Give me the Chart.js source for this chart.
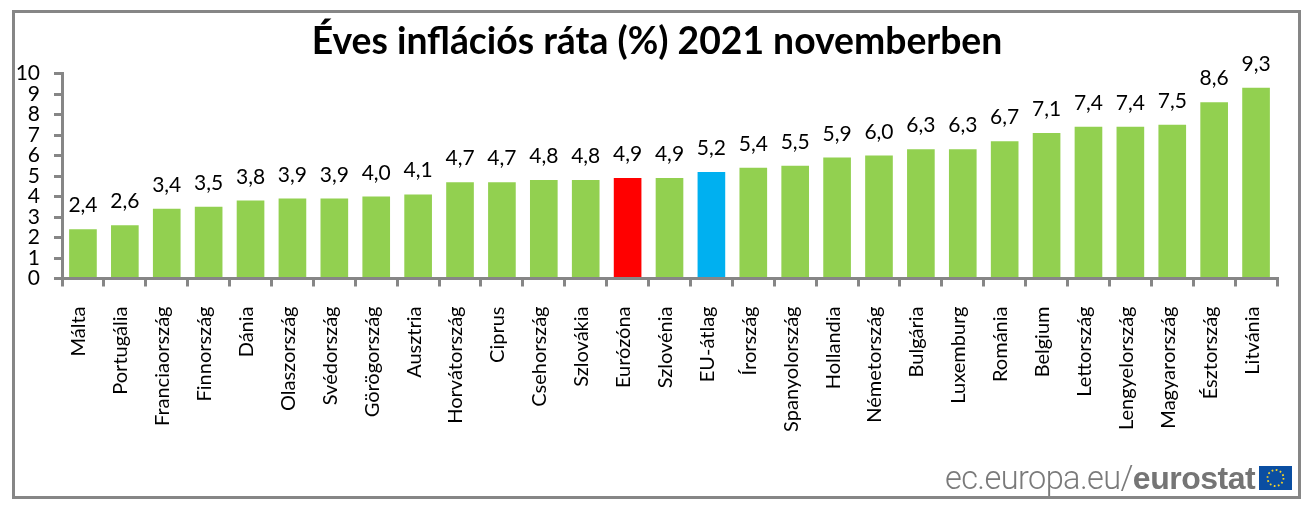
<!DOCTYPE html>
<html lang="hu"><head><meta charset="utf-8">
<script src="https://cdn.jsdelivr.net/npm/chart.js@4"></script>
<style>
html,body{margin:0;padding:0;background:#fff;width:1310px;height:508px;overflow:hidden}
#wrap{position:relative;width:1310px;height:508px}
#c{position:absolute;left:0;top:0}
#frame{position:absolute;left:12px;top:10px;width:1283px;height:483px;border:3.5px solid #868686;pointer-events:none}
#wm{position:absolute;left:945px;top:459px;font:300 32.5px Roboto,"Liberation Sans",sans-serif;color:#7a7a7a;letter-spacing:-0.6px;white-space:nowrap}
#wm b{font:bold 32px "Liberation Sans",Arial,sans-serif;color:#757575;letter-spacing:-0.5px}
#flag{position:absolute;left:1259px;top:466px}
</style></head><body>
<div id="wrap">
<canvas id="c" width="1310" height="508"></canvas>
<div id="frame"></div>
<div id="wm">ec.europa.eu/<b>eurostat</b></div>
<svg id="flag" width="33" height="24" viewBox="0 0 33 24"><rect width="33" height="24" fill="#0a4ea2"/><circle cx="16.5" cy="12" r="8" fill="none" stroke="#f5d327" stroke-width="1.8" stroke-dasharray="1.7 2.49"/></svg>
</div>
<script>
const categories=["Málta","Portugália","Franciaország","Finnország","Dánia","Olaszország","Svédország","Görögország","Ausztria","Horvátország","Ciprus","Csehország","Szlovákia","Eurózóna","Szlovénia","EU-átlag","Írország","Spanyolország","Hollandia","Németország","Bulgária","Luxemburg","Románia","Belgium","Lettország","Lengyelország","Magyarország","Észtország","Litvánia"];
const values=[2.4,2.6,3.4,3.5,3.8,3.9,3.9,4.0,4.1,4.7,4.7,4.8,4.8,4.9,4.9,5.2,5.4,5.5,5.9,6.0,6.3,6.3,6.7,7.1,7.4,7.4,7.5,8.6,9.3];
const barColors=categories.map(n=>n==="Eurózóna"?"#ff0000":n==="EU-átlag"?"#00b0f0":"#92d050");
const titleText="Éves inflációs ráta (%) 2021 novemberben";
const axisGray="#868686";
const fontFam='Lato, "Open Sans", sans-serif';
const labelPlugin={id:"valueLabels",afterDatasetsDraw(ch){
  const x=ch.ctx,m=ch.getDatasetMeta(0);
  x.save();x.font='21px '+fontFam;x.fillStyle="#000";x.textAlign="center";x.textBaseline="alphabetic";
  m.data.forEach((b,i)=>x.fillText(values[i].toFixed(1).replace(".",","),b.x,b.y-17));
  x.restore();
}};
new Chart(document.getElementById("c"),{
  type:"bar",
  data:{labels:categories,datasets:[{data:values,backgroundColor:barColors,borderWidth:0,barPercentage:0.66,categoryPercentage:1}]},
  plugins:[labelPlugin],
  options:{
    responsive:false,animation:false,
    layout:{padding:{left:4,right:0,top:0,bottom:0}},
    plugins:{legend:{display:false},tooltip:{enabled:false},
      title:{display:true,text:titleText,color:"#000",align:"center",
        font:{family:fontFam,size:37.3,weight:"bold",lineHeight:1},padding:{top:23,bottom:13.2}}},
    scales:{
      x:{offset:true,
        grid:{offset:true,drawOnChartArea:false,drawTicks:true,tickLength:8,color:axisGray,lineWidth:3},
        border:{color:axisGray,width:3},
        ticks:{autoSkip:false,minRotation:90,maxRotation:90,padding:20,labelOffset:-4,color:"#000",font:{family:fontFam,size:20}},
        afterFit(s){s.height=229.5}},
      y:{min:0,max:10,
        grid:{drawOnChartArea:false,drawTicks:true,tickLength:8,color:axisGray,lineWidth:3},
        border:{color:axisGray,width:3},
        ticks:{stepSize:1,autoSkip:false,padding:14,color:"#000",font:{family:fontFam,size:21},callback:v=>String(v)},
        afterFit(s){s.width=58}},
      yRight:{position:"right",display:true,min:0,max:10,
        grid:{display:false},border:{display:false},ticks:{display:false},
        afterFit(s){s.width=33}}
    }
  }
});
</script>
</body></html>
